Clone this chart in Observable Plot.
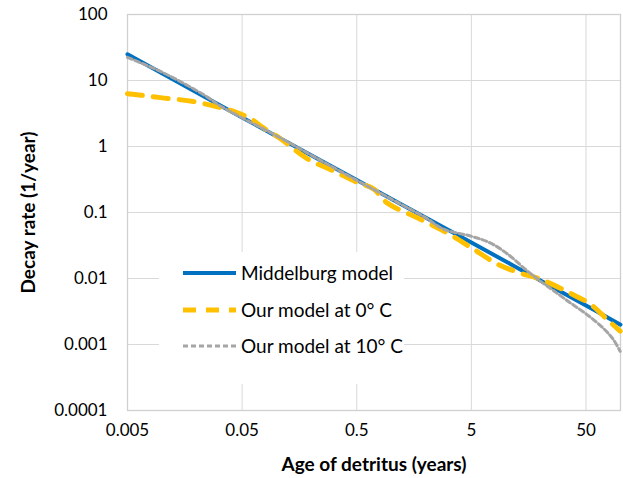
<!DOCTYPE html>
<html><head><meta charset="utf-8">
<script src="https://cdn.jsdelivr.net/npm/d3@7"></script>
<script src="https://cdn.jsdelivr.net/npm/@observablehq/plot@0.6"></script>
<style>
body{margin:0;background:#fff;}
#chart{position:relative;width:623px;height:478px;font-family:Lato,"Open Sans",sans-serif;color:#000;}
#chart svg text{fill:#000;}
#chart [aria-label="y-axis label"]{font-weight:bold;font-size:19px;}
#chart [aria-label="y-axis label"] text{font-weight:bold;font-size:19px;}
#legend{position:absolute;left:159px;top:252px;width:245px;height:132px;background:#fff;}
</style></head><body><div id="chart"></div>
<script>
const seriesNames = ["Middelburg model", "Our model at 0° C", "Our model at 10° C"];
const seriesColors = ["#0070C0", "#FFC000", "#A5A5A5"];
const xTitle = "Age of detritus (years)";
const yTitle = "Decay rate (1/year)";

const middelburgAge  = [0.005, 0.05, 0.5, 5, 50, 100];
const middelburgRate = [25, 2.75, 0.31, 0.035, 0.0039, 0.002];

const model0Age  = [0.005, 0.0065, 0.0097, 0.0188, 0.032, 0.042, 0.059, 0.072, 0.108, 0.186, 0.31, 0.52, 0.70, 0.92, 1.69, 3.08, 5.2, 8.4, 13.3, 19.9, 36.3, 54.4, 76.5, 99.3];
const model0Rate = [6.3, 6.0, 5.5, 4.8, 3.9, 3.4, 2.66, 2.06, 1.31, 0.65, 0.43, 0.28, 0.228, 0.14, 0.083, 0.049, 0.028, 0.0166, 0.0121, 0.0098, 0.006, 0.0041, 0.0024, 0.0016];

const model10Age  = [0.005, 0.0097, 0.0167, 0.0249, 0.032, 0.048, 0.1, 0.3, 1, 2, 2.85, 4.91, 7.3, 10.3, 15.4, 19.9, 25.9, 36.3, 51, 70.6, 86, 99.3];
const model10Rate = [22.4, 13.7, 8.4, 5.6, 4.15, 2.82, 1.45, 0.5, 0.16, 0.083, 0.056, 0.044, 0.0346, 0.0236, 0.013, 0.0092, 0.0066, 0.0043, 0.00284, 0.00177, 0.00121, 0.00079];

const xTicks = [0.005, 0.05, 0.5, 5, 50];
const xTickLabels = ["0.005", "0.05", "0.5", "5", "50"];
const yTicks = [0.0001, 0.001, 0.01, 0.1, 1, 10, 100];
const yTickLabels = ["0.0001", "0.001", "0.01", "0.1", "1", "10", "100"];

const toRows = (ages, rates) => ages.map((a, i) => ({age: a, rate: rates[i]}));
const middelburg = toRows(middelburgAge, middelburgRate);
const model0 = toRows(model0Age, model0Rate);
const model10 = toRows(model10Age, model10Rate);
const xTickRows = xTicks.map((v, i) => ({v, label: xTickLabels[i]}));

const fmtY = d => yTickLabels[yTicks.indexOf(d)];

const chart = Plot.plot({
  width: 623,
  height: 478,
  marginLeft: 127,
  marginRight: 3,
  marginTop: 14,
  marginBottom: 68,
  style: {fontSize: "17px", fontFamily: "Lato, 'Open Sans', sans-serif", background: "#fff", color: "#000"},
  x: {type: "log", domain: [0.005, 100], axis: null},
  y: {type: "log", domain: [0.0001, 100]},
  marks: [
    Plot.ruleX(xTicks, {stroke: "#D9D9D9", strokeWidth: 1}),
    Plot.ruleY(yTicks, {stroke: "#D9D9D9", strokeWidth: 1}),
    Plot.frame({stroke: "#D0D0D0", strokeWidth: 1.3}),
    Plot.text(xTickRows, {x: "v", text: "label", frameAnchor: "bottom", dy: 25, fontSize: 17, fill: "#000"}),
    Plot.text([xTitle], {text: d => d, frameAnchor: "bottom", dy: 60, fontSize: 19, fontWeight: "bold", fill: "#000"}),
    Plot.axisY(yTicks, {
      tickFormat: fmtY, tickSize: 0, tickPadding: 20, fontSize: 17,
      label: yTitle, labelAnchor: "center", labelOffset: 106, labelArrow: "none"
    }),
    Plot.line(middelburg, {x: "age", y: "rate", stroke: seriesColors[0], strokeWidth: 4, curve: "catmull-rom"}),
    Plot.line(model0, {x: "age", y: "rate", stroke: seriesColors[1], strokeWidth: 5, strokeDasharray: "15,11", curve: "catmull-rom"}),
    Plot.line(model10, {x: "age", y: "rate", stroke: seriesColors[2], strokeWidth: 3, strokeDasharray: "5,3", curve: "catmull-rom"})
  ]
});
const container = document.getElementById("chart");
container.appendChild(chart);

// legend overlay
const legend = document.createElement("div");
legend.id = "legend";
const dashes = [null, "13,10", "5,3"];
const widths = [4, 5, 3];
const rowsY = [21, 58, 94];
const ns = "http://www.w3.org/2000/svg";
const lsvg = document.createElementNS(ns, "svg");
lsvg.setAttribute("width", 245); lsvg.setAttribute("height", 132);
seriesNames.forEach((name, i) => {
  const ln = document.createElementNS(ns, "line");
  ln.setAttribute("x1", 24); ln.setAttribute("x2", 77);
  ln.setAttribute("y1", rowsY[i]); ln.setAttribute("y2", rowsY[i]);
  ln.setAttribute("stroke", seriesColors[i]);
  ln.setAttribute("stroke-width", widths[i]);
  if (dashes[i]) ln.setAttribute("stroke-dasharray", dashes[i]);
  lsvg.appendChild(ln);
  const t = document.createElementNS(ns, "text");
  t.setAttribute("x", 82); t.setAttribute("y", rowsY[i]);
  t.setAttribute("dy", "0.35em");
  t.setAttribute("font-size", "19px");
  t.setAttribute("font-family", "Lato, 'Open Sans', sans-serif");
  t.setAttribute("fill", "#000");
  t.textContent = name;
  lsvg.appendChild(t);
});
legend.appendChild(lsvg);
container.appendChild(legend);
</script>
</body></html>
